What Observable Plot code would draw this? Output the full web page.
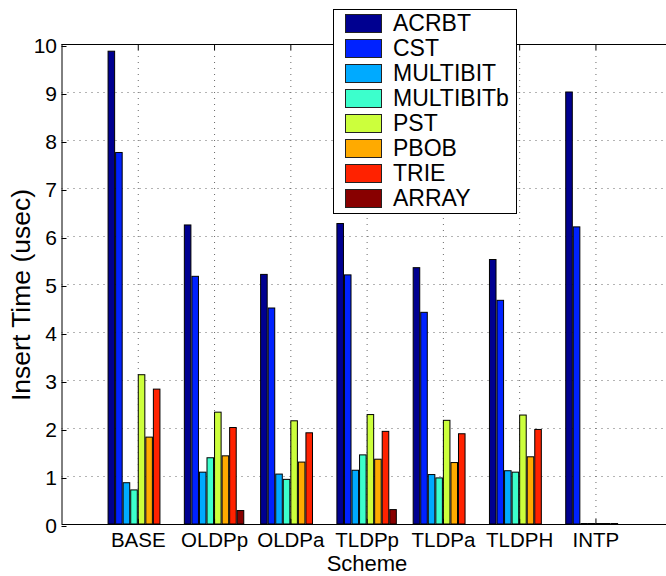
<!DOCTYPE html>
<html><head><meta charset="utf-8">
<script src="https://cdn.jsdelivr.net/npm/d3@7"></script>
<script src="https://cdn.jsdelivr.net/npm/@observablehq/plot@0.6"></script>
<style>
body{margin:0;background:#fff;font-family:"Liberation Sans",Arial,sans-serif;}
#wrap{position:relative;width:666px;height:576px;overflow:hidden;background:#fff;}
#legend{position:absolute;left:333px;top:9px;width:184px;height:205px;border:1px solid #000;background:#fff;box-sizing:border-box;}
.sw{position:absolute;left:10.5px;width:37.5px;height:19px;border:1px solid #222;box-sizing:border-box;}
.lb{position:absolute;left:59px;font-size:23px;line-height:1;white-space:nowrap;color:#000;}
#ylabel{position:absolute;left:21px;top:295px;transform:translate(-50%,-50%) rotate(-90deg);font-size:26.5px;line-height:1;white-space:nowrap;}
#xlabel{position:absolute;left:367px;top:551.5px;transform:translateX(-50%);font-size:22px;line-height:1.1;white-space:nowrap;}
</style></head>
<body>
<div id="wrap"></div>
<script>
const schemes = ["BASE","OLDPp","OLDPa","TLDPp","TLDPa","TLDPH","INTP"];
const series = ["ACRBT","CST","MULTIBIT","MULTIBITb","PST","PBOB","TRIE","ARRAY"];
const colors = ["#000090","#0022FF","#00AAFF","#3CFFCC","#CCFF3C","#FFAA00","#FF2200","#880000"];
const ACRBT     = [9.85, 6.23, 5.20, 6.26, 5.34, 5.51, 9.00];
const CST       = [7.74, 5.16, 4.50, 5.19, 4.41, 4.66, 6.19];
const MULTIBIT  = [0.86, 1.08, 1.04, 1.12, 1.03, 1.11, 0.01];
const MULTIBITb = [0.71, 1.38, 0.93, 1.44, 0.96, 1.08, 0.01];
const PST       = [3.11, 2.33, 2.15, 2.28, 2.16, 2.27, 0.01];
const PBOB      = [1.81, 1.42, 1.29, 1.35, 1.28, 1.40, 0.01];
const TRIE      = [2.81, 2.01, 1.90, 1.93, 1.88, 1.97, 0.01];
const ARRAY     = [0.00, 0.28, 0.00, 0.30, 0.00, 0.00, 0.00];
const yTicks = [0,1,2,3,4,5,6,7,8,9,10];
const yGrid = [1,2,3,4,5,6,7,8,9];
const xTicks = [1,2,3,4,5,6,7];

const values = [ACRBT, CST, MULTIBIT, MULTIBITb, PST, PBOB, TRIE, ARRAY];
const step = 0.099, half = 0.043;
const table = [];
schemes.forEach((s, i) => {
  series.forEach((name, j) => {
    const c = (i + 1) + (j - 3.5) * step;
    table.push({scheme: s, series: name, value: values[j][i], x1: c - half, x2: c + half});
  });
});

const chart = Plot.plot({
  width: 666, height: 576,
  marginLeft: 61.5, marginRight: 0, marginTop: 44, marginBottom: 52,
  x: {domain: [0, 7.925]},
  y: {domain: [0, 10]},
  color: {domain: series, range: colors},
  style: {fontFamily: "'Liberation Sans', Arial, sans-serif", fontSize: "21px", color: "#000", background: "#fff"},
  marks: [
    Plot.gridY(yGrid, {stroke: "#444", strokeOpacity: 0.8, strokeDasharray: "1,5"}),
    Plot.gridX(xTicks, {stroke: "#444", strokeOpacity: 0.8, strokeDasharray: "1,5"}),
    Plot.rectY(table.filter(d => d.value > 0), {x1: "x1", x2: "x2", y1: 0, y2: "value", fill: "series", stroke: "#000", strokeWidth: 1}),
    Plot.ruleY([0], {stroke: "#000", strokeWidth: 1}),
    Plot.ruleY([10], {stroke: "#000", strokeWidth: 1}),
    Plot.ruleX([0], {stroke: "#000", strokeWidth: 1}),
    Plot.axisY({ticks: yTicks, tickSize: -5, tickPadding: 10, label: null, fontSize: 21, dy: 2}),
    Plot.axisX({ticks: xTicks, tickFormat: d => schemes[d - 1], tickSize: -5, tickPadding: 13, label: null, fontSize: 20.5}),
    Plot.axisX({anchor: "top", ticks: xTicks, tickSize: -5, tickFormat: () => "", label: null})
  ]
});
const wrap = document.getElementById("wrap");
wrap.appendChild(chart);

const legend = document.createElement("div");
legend.id = "legend";
series.forEach((name, j) => {
  const sw = document.createElement("div");
  sw.className = "sw";
  sw.style.top = (4.3 + j * 25) + "px";
  sw.style.background = colors[j];
  legend.appendChild(sw);
  const lb = document.createElement("div");
  lb.className = "lb";
  lb.style.top = (1.5 + j * 25) + "px";
  lb.textContent = name;
  legend.appendChild(lb);
});
wrap.appendChild(legend);

const yl = document.createElement("div");
yl.id = "ylabel"; yl.textContent = "Insert Time (usec)";
wrap.appendChild(yl);
const xl = document.createElement("div");
xl.id = "xlabel"; xl.textContent = "Scheme";
wrap.appendChild(xl);
</script>
</body></html>
